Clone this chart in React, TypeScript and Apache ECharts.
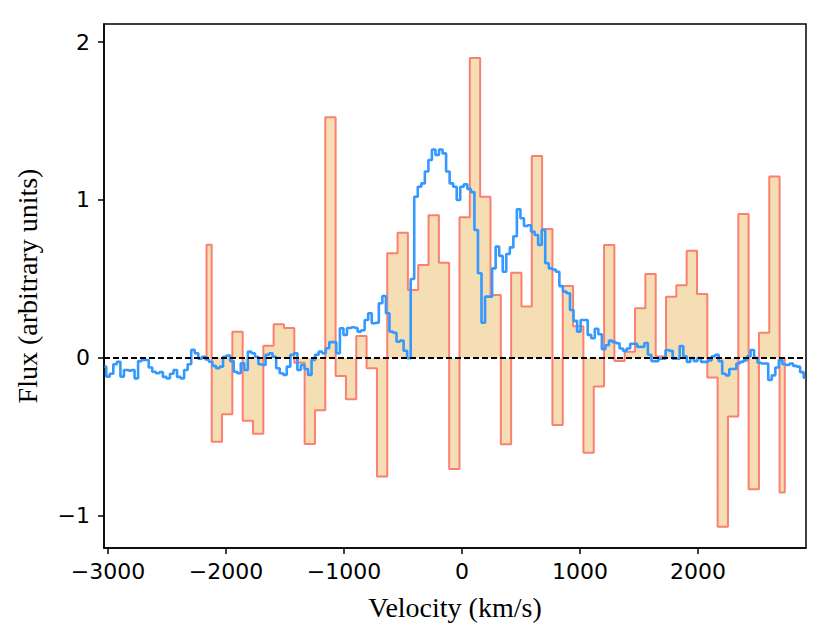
import React, { useEffect, useRef } from "react";
import * as echarts from "echarts";

const X_TICKS = [-3000, -2000, -1000, 0, 1000, 2000];
const Y_TICKS = [-1, 0, 1, 2];

// Coarse (binned) spectrum: bin centres (km/s) and flux
const BINNED_VELOCITY = [
  -2165, -2077.5, -1990, -1902.5, -1815, -1727.5, -1640, -1552.5, -1465, -1377.5,
  -1290, -1202.5, -1115, -1027.5, -940, -852.5, -765, -677.5, -590, -502.5,
  -415, -327.5, -240, -152.5, -65, 22.5, 110, 197.5, 285, 372.5,
  460, 547.5, 635, 722.5, 810, 897.5, 985, 1072.5, 1160, 1247.5,
  1335, 1422.5, 1510, 1597.5, 1685, 1772.5, 1860, 1947.5, 2035, 2122.5,
  2210, 2297.5, 2385, 2472.5, 2560, 2647.5, 2735,
];
const BINNED_FLUX = [
  0.717, -0.53, -0.357, 0.166, -0.397, -0.479, 0.078, 0.213, 0.19, -0.03,
  -0.544, -0.331, 1.523, -0.114, -0.262, 0.139, -0.065, -0.751, 0.663, 0.793,
  0.43, 0.589, 0.903, 0.603, -0.703, 0.89, 1.899, 1.021, 0.399, -0.546,
  0.54, 0.325, 1.278, 0.816, -0.424, 0.456, 0.2, -0.6, -0.18, 0.715,
  -0.02, 0.04, 0.314, 0.532, 0.01, 0.388, 0.46, 0.679, 0.405, -0.124,
  -1.068, -0.371, 0.911, -0.831, 0.16, 1.148, -0.852,
];

// Fine spectrum: channel centres (km/s) and flux
const FINE_VELOCITY = [
  -3030, -3000, -2970, -2940, -2910, -2880, -2850, -2820, -2790, -2760,
  -2730, -2700, -2670, -2640, -2610, -2580, -2550, -2520, -2490, -2460,
  -2430, -2400, -2370, -2340, -2310, -2280, -2250, -2220, -2190, -2160,
  -2130, -2100, -2070, -2040, -2010, -1980, -1950, -1920, -1890, -1860,
  -1830, -1800, -1770, -1740, -1710, -1680, -1650, -1620, -1590, -1560,
  -1530, -1500, -1470, -1440, -1410, -1380, -1350, -1320, -1290, -1260,
  -1230, -1200, -1170, -1140, -1110, -1080, -1050, -1020, -990, -960,
  -930, -900, -870, -840, -810, -780, -750, -720, -690, -660,
  -630, -600, -570, -540, -510, -480, -450, -420, -390, -360,
  -330, -300, -270, -240, -210, -180, -150, -120, -90, -60,
  -30, 0, 30, 60, 90, 120, 150, 180, 210, 240,
  270, 300, 330, 360, 390, 420, 450, 480, 510, 540,
  570, 600, 630, 660, 690, 720, 750, 780, 810, 840,
  870, 900, 930, 960, 990, 1020, 1050, 1080, 1110, 1140,
  1170, 1200, 1230, 1260, 1290, 1320, 1350, 1380, 1410, 1440,
  1470, 1500, 1530, 1560, 1590, 1620, 1650, 1680, 1710, 1740,
  1770, 1800, 1830, 1860, 1890, 1920, 1950, 1980, 2010, 2040,
  2070, 2100, 2130, 2160, 2190, 2220, 2250, 2280, 2310, 2340,
  2370, 2400, 2430, 2460, 2490, 2520, 2550, 2580, 2610, 2640,
  2670, 2700, 2730, 2760, 2790, 2820, 2850, 2880, 2910,
];
const FINE_FLUX = [
  -0.055, -0.118, -0.1, -0.04, -0.024, -0.118, -0.076, -0.08, -0.076, -0.129,
  -0.02, -0.013, -0.013, -0.06, -0.087, -0.097, -0.09, -0.12, -0.129, -0.1,
  -0.076, -0.12, -0.129, -0.076, -0.04, 0.051, 0.03, -0.005, 0.008, -0.01,
  -0.024, -0.05, -0.065, -0.055, 0.008, 0.015, -0.02, -0.087, -0.097, -0.034,
  -0.076, 0.04, 0.03, 0.008, -0.04, -0.045, 0.02, 0.03, 0.008, -0.065,
  -0.097, -0.107, -0.055, 0.02, 0.03, -0.076, -0.045, -0.07, -0.107, -0.013,
  0.02, 0.04, 0.03, 0.061, 0.1, 0.1, 0.03, 0.188, 0.146, 0.19,
  0.194, 0.19, 0.167, 0.175, 0.24, 0.283, 0.22, 0.223, 0.346, 0.392,
  0.283, 0.167, 0.16, 0.103, 0.11, 0.046, -0.002, 0.5, 1.02, 1.084,
  1.105, 1.18, 1.253, 1.32, 1.285, 1.32, 1.295, 1.18, 1.105, 1.084,
  1.0, 1.084, 1.1, 1.07, 1.05, 0.81, 0.536, 0.223, 0.388, 0.388,
  0.567, 0.705, 0.646, 0.546, 0.658, 0.7, 0.77, 0.941, 0.884, 0.835,
  0.84, 0.8, 0.778, 0.715, 0.81, 0.6, 0.567, 0.56, 0.546, 0.455,
  0.42, 0.41, 0.304, 0.235, 0.167, 0.24, 0.24, 0.146, 0.125, 0.185,
  0.15, 0.055, 0.08, 0.11, 0.1, 0.093, 0.06, 0.045, 0.06, 0.09,
  0.09, 0.07, 0.07, 0.095, 0.02, -0.02, -0.02, -0.005, -0.005, 0.05,
  0.045, -0.005, -0.005, 0.075, 0.01, -0.025, 0.0, -0.02, 0.0, -0.025,
  -0.025, -0.015, 0.01, 0.02, -0.02, -0.1, -0.11, -0.07, -0.07, -0.035,
  -0.025, -0.015, 0.01, 0.05, 0.0, -0.03, -0.035, -0.035, -0.14, -0.11,
  -0.06, -0.015, -0.04, -0.045, -0.035, -0.05, -0.055, -0.09, -0.125,
];

const X_MIN = -3034;
const X_MAX = 2915;
const Y_MIN = -1.203;
const Y_MAX = 2.114;

const fmt = (v: number) => (v < 0 ? "\u2212" + Math.abs(v) : String(v));

export default function App() {
  const ref = useRef<HTMLDivElement>(null);

  useEffect(() => {
    document.body.style.margin = "0";
    const chart = echarts.init(ref.current as HTMLDivElement, null, { renderer: "svg" });

    const binned: any[] = [[BINNED_VELOCITY[0], 0]];
    BINNED_VELOCITY.forEach((v, i) => binned.push([v, BINNED_FLUX[i]]));
    binned.push([BINNED_VELOCITY[BINNED_VELOCITY.length - 1], 0]);

    const fine = FINE_VELOCITY.map((v, i) => [v, FINE_FLUX[i]]);

    const labelFont = "DejaVu Sans";
    const titleFont = "Liberation Serif";

    chart.setOption({
      animation: false,
      grid: {
        left: 104,
        right: 25,
        top: 24,
        bottom: 94,
        show: true,
        borderColor: "#000",
        borderWidth: 1.5,
        backgroundColor: "transparent",
      },
      xAxis: {
        type: "value",
        min: X_MIN,
        max: X_MAX,
        name: "Velocity (km/s)",
        nameLocation: "middle",
        nameGap: 45,
        nameTextStyle: { fontFamily: titleFont, fontSize: 28, color: "#000" },
        axisLine: { show: true, onZero: false, lineStyle: { color: "#000", width: 1.5 } },
        axisTick: {
          show: true,
          customValues: X_TICKS,
          length: 6,
          lineStyle: { color: "#000", width: 1.5 },
        },
        axisLabel: {
          customValues: X_TICKS,
          formatter: fmt,
          fontFamily: labelFont,
          fontSize: 22,
          color: "#000",
          margin: 12,
        },
        splitLine: { show: false },
      },
      yAxis: {
        type: "value",
        min: Y_MIN,
        max: Y_MAX,
        name: "Flux (arbitrary units)",
        nameLocation: "middle",
        nameGap: 63,
        nameTextStyle: { fontFamily: titleFont, fontSize: 28, color: "#000" },
        axisLine: { show: true, onZero: false, lineStyle: { color: "#000", width: 1.5 } },
        axisTick: {
          show: true,
          customValues: Y_TICKS,
          length: 6,
          lineStyle: { color: "#000", width: 1.5 },
        },
        axisLabel: {
          customValues: Y_TICKS,
          formatter: fmt,
          fontFamily: labelFont,
          fontSize: 22,
          color: "#000",
          margin: 14,
        },
        splitLine: { show: false },
      },
      series: [
        {
          name: "binned",
          type: "line",
          step: "middle",
          data: binned,
          symbol: "none",
          silent: true,
          z: 2,
          lineStyle: { color: "#FA8072", width: 2 },
          areaStyle: { color: "#F5DEB3", opacity: 1, origin: "auto" },
        },
        {
          name: "fine",
          type: "line",
          step: "middle",
          data: fine,
          symbol: "none",
          silent: true,
          z: 3,
          lineStyle: { color: "#3399FF", width: 2.6 },
        },
        {
          name: "zero",
          type: "line",
          data: [],
          z: 5,
          silent: true,
          markLine: {
            silent: true,
            symbol: ["none", "none"],
            label: { show: false },
            lineStyle: { color: "#000", width: 1.8, type: [6, 3] },
            data: [{ yAxis: 0 }],
          },
        },
      ],
    });

    return () => chart.dispose();
  }, []);

  return <div ref={ref} style={{ width: 831, height: 642 }} />;
}
